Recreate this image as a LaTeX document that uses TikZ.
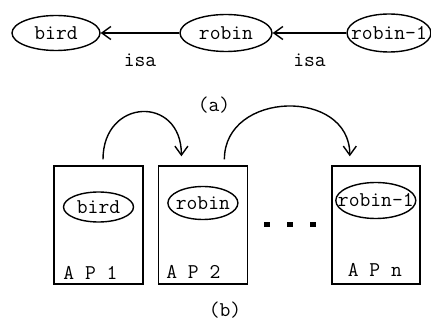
\documentclass[tikz,border=0pt]{standalone}
\usepackage{fontspec}
\usepackage{tikz}
\usetikzlibrary{arrows.meta, positioning, shapes.geometric}

\begin{document}
\begin{tikzpicture}[x=1pt, y=1pt, line width=1.4pt,
    font=\fontsize{21}{23}\selectfont\ttfamily\addfontfeatures{FakeBold=2, FakeStretch=0.9},
    oval/.style={draw, ellipse, inner xsep=-12pt, inner ysep=0pt},
    apbox/.style={draw, rectangle, minimum width=89pt, minimum height=118pt},
    barb/.style={-{Straight Barb[length=9pt, width=13pt]}}]
  \useasboundingbox (0,0) rectangle (431,-323);

  % (a) the isa chain
  \node[oval, minimum width=88pt, minimum height=35pt] (bird) at (56,-33) {bird};
  \node[oval, minimum width=92pt, minimum height=37pt] (robin) at (226,-33) {robin};
  \node[oval, minimum width=84pt, minimum height=38pt] (robinone) at (389,-33) {robin-1};
  \draw[barb] (robin) -- (bird) node[midway, below=17pt] {isa};
  \draw[barb] (robinone) -- (robin) node[midway, below=17pt] {isa};
  \node (capa) at (214,-105) {(a)};

  % (b) the processors
  \node[apbox] (apone) at (98.5,-225) {};
  \node[apbox, right=14pt of apone] (aptwo) {};
  \node[apbox, minimum width=88pt, right=83pt of aptwo] (apn) {};

  \node[oval, minimum width=70pt, minimum height=30pt] (birdb) at ([yshift=18pt]apone.center) {bird};
  \node[oval, minimum width=70pt, minimum height=33pt] (robinb) at ([yshift=22pt]aptwo.center) {robin};
  \node[oval, minimum width=80pt, minimum height=36pt] (robinoneb) at ([yshift=24.5pt]apn.center) {robin-1};

  \node (labone) at ([xshift=-8pt, yshift=12pt]apone.south) {A P 1};
  \node (labtwo) at ([xshift=-9.5pt, yshift=13pt]aptwo.south) {A P 2};
  \node (labn) at ([xshift=-1pt, yshift=15pt]apn.south) {A P n};

  \foreach \i/\x in {1/267, 2/290, 3/313}
    \node[fill, minimum width=6pt, minimum height=5pt, inner sep=0pt] (dot\i) at (\x,-225) {};

  \draw[barb] ([xshift=4.5pt, yshift=6pt]apone.north) to[out=90, in=90, looseness=2]
    ([xshift=-21.5pt, yshift=9pt]aptwo.north);
  \draw[barb] ([xshift=21.5pt, yshift=6pt]aptwo.north) to[out=90, in=90, looseness=1.4]
    ([xshift=-26pt, yshift=9pt]apn.north);

  \node (capb) at (225,-310) {(b)};
\end{tikzpicture}
\end{document}
